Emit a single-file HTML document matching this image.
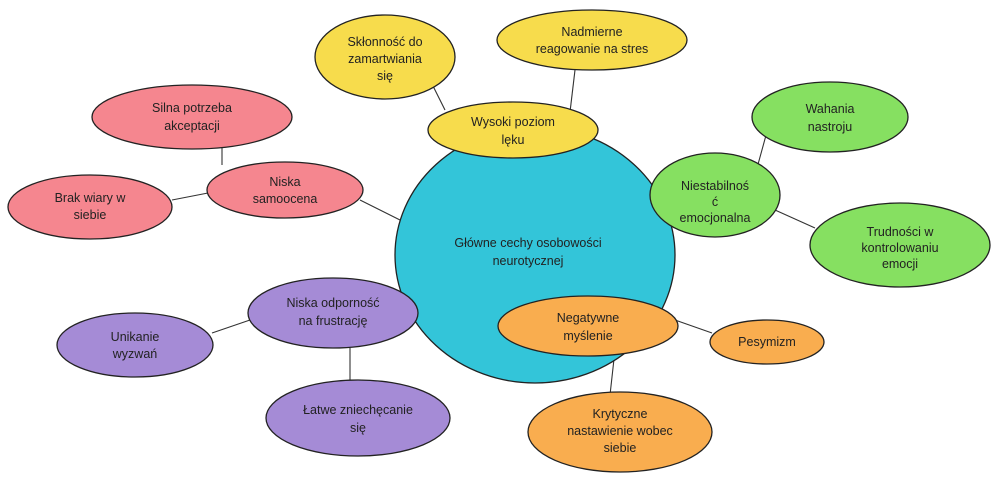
<!DOCTYPE html>
<html><head><meta charset="utf-8"><style>
html,body{margin:0;padding:0;background:#fff;}
svg{display:block;}
text{font-family:"Liberation Sans","DejaVu Sans",sans-serif;font-size:12.5px;fill:#222;text-anchor:middle;}
ellipse{stroke:#222;stroke-width:1.3;}
line{stroke:#333;stroke-width:1.1;}
</style></head><body>
<svg width="1000" height="482" viewBox="0 0 1000 482">
<g>
<line x1="445" y1="110" x2="430" y2="80"/>
<line x1="570" y1="112" x2="575" y2="70"/>
<line x1="222" y1="147" x2="222" y2="165"/>
<line x1="172" y1="200" x2="208" y2="193"/>
<line x1="360" y1="200" x2="400" y2="220"/>
<line x1="757" y1="168" x2="768" y2="128"/>
<line x1="775" y1="210" x2="815" y2="228"/>
<line x1="212" y1="333" x2="250" y2="320"/>
<line x1="350" y1="348" x2="350" y2="380"/>
<line x1="675" y1="320" x2="712" y2="333"/>
<line x1="615" y1="350" x2="610" y2="395"/>
<line x1="400" y1="305" x2="410" y2="300"/>
</g>
<ellipse cx="535" cy="255" rx="140" ry="128" fill="#33c5d9"/>
<ellipse cx="513" cy="130" rx="85" ry="28" fill="#f7dc4c"/>
<ellipse cx="385" cy="57" rx="70" ry="42" fill="#f7dc4c"/>
<ellipse cx="592" cy="40" rx="95" ry="30" fill="#f7dc4c"/>
<ellipse cx="192" cy="117" rx="100" ry="32" fill="#f5868f"/>
<ellipse cx="285" cy="190" rx="78" ry="28" fill="#f5868f"/>
<ellipse cx="90" cy="207" rx="82" ry="32" fill="#f5868f"/>
<ellipse cx="715" cy="195" rx="65" ry="42" fill="#86e061"/>
<ellipse cx="830" cy="117" rx="78" ry="35" fill="#86e061"/>
<ellipse cx="900" cy="245" rx="90" ry="42" fill="#86e061"/>
<ellipse cx="333" cy="313" rx="85" ry="35" fill="#a58bd6"/>
<ellipse cx="135" cy="345" rx="78" ry="32" fill="#a58bd6"/>
<ellipse cx="358" cy="418" rx="92" ry="38" fill="#a58bd6"/>
<ellipse cx="588" cy="326" rx="90" ry="30" fill="#f9ad4f"/>
<ellipse cx="767" cy="342" rx="57" ry="22" fill="#f9ad4f"/>
<ellipse cx="620" cy="432" rx="92" ry="40" fill="#f9ad4f"/>

<text x="528" y="247">Główne cechy osobowości</text>
<text x="528" y="265">neurotycznej</text>
<text x="513" y="126">Wysoki poziom</text><text x="513" y="144">lęku</text>
<text x="385" y="46">Skłonność do</text><text x="385" y="63">zamartwiania</text><text x="385" y="80">się</text>
<text x="592" y="36">Nadmierne</text><text x="592" y="53">reagowanie na stres</text>
<text x="192" y="112">Silna potrzeba</text><text x="192" y="130">akceptacji</text>
<text x="285" y="186">Niska</text><text x="285" y="203">samoocena</text>
<text x="90" y="202">Brak wiary w</text><text x="90" y="219">siebie</text>
<text x="715" y="190">Niestabilnoś</text><text x="715" y="206">ć</text><text x="715" y="222">emocjonalna</text>
<text x="830" y="113">Wahania</text><text x="830" y="131">nastroju</text>
<text x="900" y="236">Trudności w</text><text x="900" y="252">kontrolowaniu</text><text x="900" y="268">emocji</text>
<text x="333" y="307">Niska odporność</text><text x="333" y="325">na frustrację</text>
<text x="135" y="341">Unikanie</text><text x="135" y="358">wyzwań</text>
<text x="358" y="414">Łatwe zniechęcanie</text><text x="358" y="432">się</text>
<text x="588" y="322">Negatywne</text><text x="588" y="340">myślenie</text>
<text x="767" y="346">Pesymizm</text>
<text x="620" y="418">Krytyczne</text><text x="620" y="435">nastawienie wobec</text><text x="620" y="452">siebie</text>
</svg>
</body></html>
